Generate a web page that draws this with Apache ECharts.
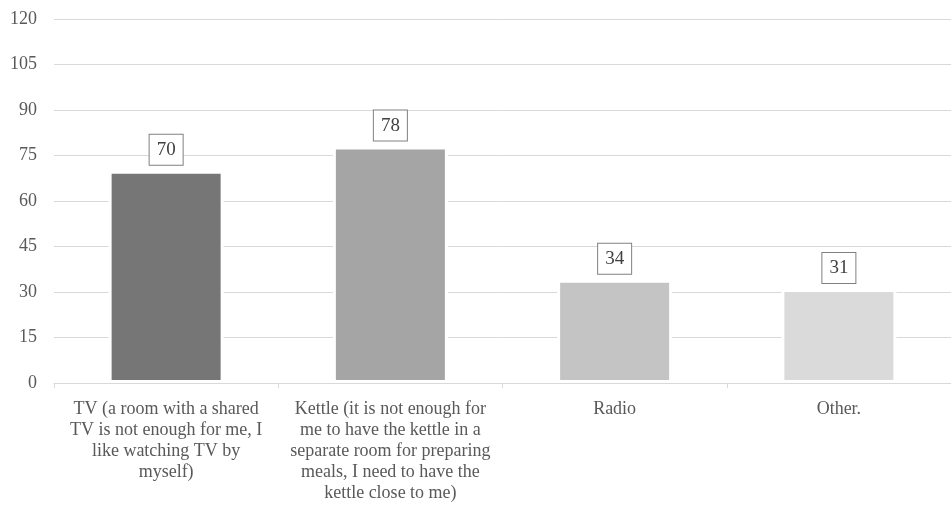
<!DOCTYPE html>
<html>
<head>
<meta charset="utf-8">
<script src="https://cdn.jsdelivr.net/npm/echarts@6/dist/echarts.min.js"></script>
<style>
html,body{margin:0;padding:0;background:#fff;}
#chart{width:951px;height:507px;}
</style>
</head>
<body>
<div id="chart"></div>
<script>
var categories = [
  "TV (a room with a shared\nTV is not enough for me, I\nlike watching TV by\nmyself)",
  "Kettle (it is not enough for\nme to have the kettle in a\nseparate room for preparing\nmeals, I need to have the\nkettle close to me)",
  "Radio",
  "Other."
];
var values = [70, 78, 34, 31];
var barColors = ["#767676", "#a5a5a5", "#c4c4c4", "#dadada"];
var yTicks = { min: 0, max: 120, interval: 15 };

var font = '"Liberation Serif", "Times New Roman", serif';
var chart = echarts.init(document.getElementById('chart'), null, { renderer: 'canvas' });
chart.setOption({
  animation: false,
  backgroundColor: '#ffffff',
  textStyle: { fontFamily: font },
  grid: { left: 54, top: 19, width: 902, height: 364, containLabel: false },
  xAxis: {
    type: 'category',
    data: categories,
    z: 5,
    axisLine: { show: true, lineStyle: { color: '#d9d9d9', width: 1 } },
    axisTick: { show: true, alignWithLabel: false, length: 5, lineStyle: { color: '#d9d9d9' } },
    axisLabel: {
      interval: 0,
      margin: 16,
      color: '#595959',
      fontFamily: font,
      fontSize: 18,
      lineHeight: 21,
      align: 'center'
    },
    splitLine: { show: false }
  },
  yAxis: {
    type: 'value',
    min: yTicks.min,
    max: yTicks.max,
    interval: yTicks.interval,
    axisLine: { show: false },
    axisTick: { show: false },
    axisLabel: { margin: 17, color: '#595959', fontFamily: font, fontSize: 18 },
    splitLine: { show: true, lineStyle: { color: '#d9d9d9', width: 1 } }
  },
  series: [{
    type: 'bar',
    data: values.map(function (v, i) {
      return { value: v, itemStyle: { color: barColors[i] } };
    }),
    barWidth: 115,
    itemStyle: { borderColor: '#ffffff', borderWidth: 3 },
    label: {
      show: true,
      position: 'top',
      distance: 6,
      color: '#404040',
      fontFamily: font,
      fontSize: 19,
      backgroundColor: '#ffffff',
      borderColor: '#808080',
      borderWidth: 1,
      padding: [6, 7, 5, 7]
    }
  }]
});
</script>
</body>
</html>
